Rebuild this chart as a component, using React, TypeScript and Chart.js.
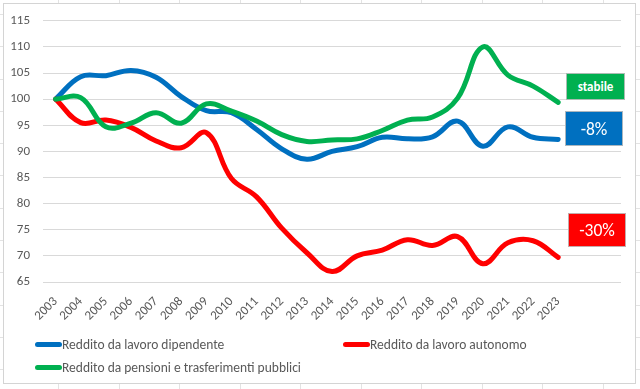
import React, { useEffect, useRef } from 'react';
import { Chart, registerables } from 'chart.js';

Chart.register(...registerables);

const years = ['2003', '2004', '2005', '2006', '2007', '2008', '2009', '2010', '2011', '2012', '2013', '2014', '2015', '2016', '2017', '2018', '2019', '2020', '2021', '2022', '2023'];
const categories = [...years, '', ''];

const dipendente = [100, 104.3, 104.5, 105.5, 104.2, 100.5, 97.8, 97.4, 94.2, 90.5, 88.5, 90.0, 90.9, 92.7, 92.4, 92.8, 95.8, 91.0, 94.7, 92.7, 92.3];
const autonomo = [100, 95.5, 96.0, 94.6, 92.0, 90.7, 93.6, 84.8, 81.3, 75.3, 70.6, 67.0, 70.0, 71.1, 73.1, 72.0, 73.7, 68.5, 72.5, 72.9, 69.7];
const pensioni = [100, 100.3, 94.7, 95.4, 97.4, 95.4, 99.1, 97.7, 95.8, 93.2, 91.9, 92.2, 92.4, 94.0, 96.0, 96.6, 100.2, 110.0, 104.6, 102.5, 99.4];

const seriesNames = ['Reddito da lavoro dipendente', 'Reddito da lavoro autonomo', 'Reddito da pensioni e trasferimenti pubblici'];
const seriesColors = ['#0070C0', '#FF0000', '#00B050'];
const yMin = 65;
const yMax = 115;
const yStep = 5;
const badges = [
  { text: 'stabile', color: '#00B050' },
  { text: '-8%', color: '#0070C0' },
  { text: '-30%', color: '#FF0000' },
];

const FONT = "Calibri, Carlito, 'Liberation Sans', Arial, sans-serif";
const GRAY = '#595959';

export default function App() {
  const ref = useRef<HTMLCanvasElement>(null);

  useEffect(() => {
    const values = [dipendente, autonomo, pensioni];
    const chart = new Chart(ref.current as HTMLCanvasElement, {
      type: 'line',
      data: {
        labels: categories,
        datasets: values.map((d, i) => ({
          label: seriesNames[i],
          data: d,
          borderColor: seriesColors[i],
          backgroundColor: seriesColors[i],
          order: 3 - i,
          fill: false,
        })),
      },
      options: {
        responsive: false,
        animation: false,
        layout: { padding: { left: 0, top: 16, right: 19, bottom: 47 } },
        plugins: { legend: { display: false }, tooltip: { enabled: false } },
        elements: {
          point: { radius: 0, hoverRadius: 0 },
          line: { tension: 0.4, borderWidth: 5, borderCapStyle: 'round', borderJoinStyle: 'round' },
        },
        scales: {
          x: {
            offset: true,
            grid: { display: false },
            border: { display: false },
            ticks: {
              autoSkip: false,
              maxRotation: 45,
              minRotation: 45,
              color: GRAY,
              font: { family: FONT, size: 13 },
              padding: 4,
            },
            afterFit: (s: any) => { s.height = 60; },
          },
          y: {
            min: yMin,
            max: yMax,
            ticks: { stepSize: yStep, color: GRAY, font: { family: FONT, size: 13 }, padding: 13 },
            grid: { color: '#d9d9d9', drawTicks: false, lineWidth: 1 },
            border: { display: false },
            afterFit: (s: any) => { s.width = 43; },
          },
        },
      } as any,
    });
    return () => chart.destroy();
  }, []);

  const legendItems = [
    { i: 0, left: 35, top: 344 },
    { i: 1, left: 343, top: 344 },
    { i: 2, left: 35, top: 367 },
  ];
  const badgeBoxes = [
    { left: 566, top: 73, width: 59, height: 27, size: 13, bold: true },
    { left: 565, top: 111, width: 58, height: 35, size: 17.5, bold: false },
    { left: 568, top: 213, width: 58, height: 34, size: 17.5, bold: false },
  ];

  const cellBg =
    'repeating-linear-gradient(to right, transparent 0px, transparent 58px, #e3e3e3 58px, #e3e3e3 59px, transparent 59px, transparent 60.5px), ' +
    'repeating-linear-gradient(to bottom, transparent 0px, transparent 14px, #e3e3e3 14px, #e3e3e3 15px, transparent 15px, transparent 32.3px)';

  return (
    <div style={{ position: 'fixed', left: 0, top: 0, width: 640, height: 389, background: '#fff', backgroundImage: cellBg, overflow: 'hidden', fontFamily: FONT }}>
      <div style={{ position: 'absolute', left: 3, top: 3, width: 631, height: 379, background: '#fff', border: '1px solid #d4d4d4' }} />
      <canvas ref={ref} width={640} height={389} style={{ position: 'absolute', left: 0, top: 0, width: 640, height: 389 }} />
      {legendItems.map(({ i, left, top }) => (
        <div key={i} style={{ position: 'absolute', left, top: top - 9, height: 18, display: 'flex', alignItems: 'center', whiteSpace: 'nowrap', color: GRAY, fontSize: 13.5 }}>
          <span style={{ display: 'inline-block', width: 27, height: 5, borderRadius: 3, background: seriesColors[i] }} />
          <span>{seriesNames[i]}</span>
        </div>
      ))}
      {badges.map((b, k) => {
        const bx = badgeBoxes[k];
        return (
          <div key={k} style={{ position: 'absolute', left: bx.left, top: bx.top, width: bx.width, height: bx.height, boxSizing: 'border-box', background: b.color, border: '1px solid rgba(190,190,190,0.9)', color: '#fff', fontSize: bx.size, fontWeight: bx.bold ? 'bold' : 'normal', display: 'flex', alignItems: 'center', justifyContent: 'center' }}>
            {b.text}
          </div>
        );
      })}
    </div>
  );
}
